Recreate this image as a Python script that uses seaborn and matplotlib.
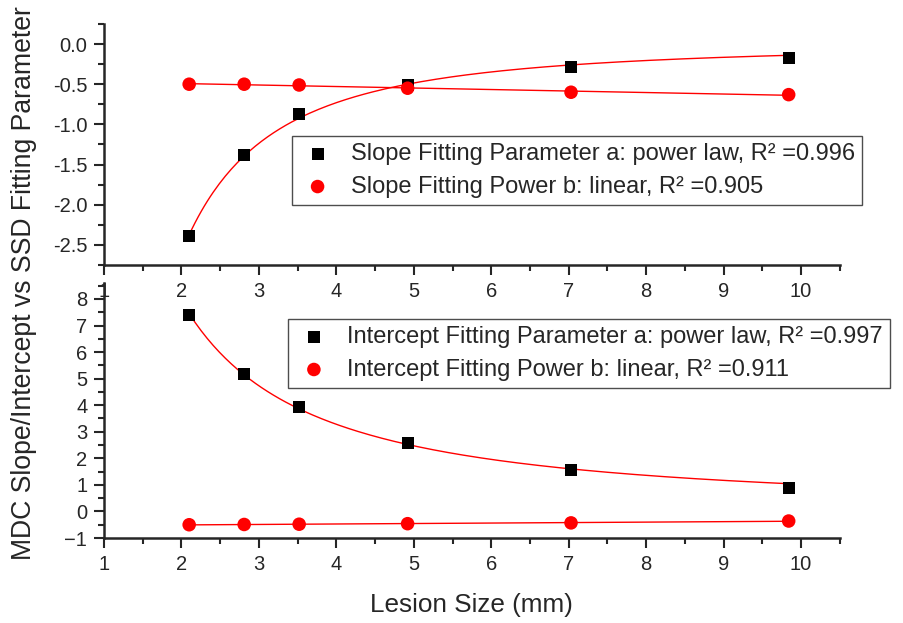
import numpy as np
import pandas as pd
from matplotlib import pyplot as plt
from matplotlib.ticker import MultipleLocator
import seaborn as sns

# lesion sizes (mm)
lesion_size = [2.10, 2.81, 3.52, 4.92, 7.03, 9.84]

# slope fitting parameters
slope_a = [-2.39, -1.38, -0.87, -0.51, -0.29, -0.18]
slope_b = [-0.50, -0.50, -0.51, -0.55, -0.60, -0.63]

# intercept fitting parameters
intercept_a = [7.40, 5.18, 3.92, 2.57, 1.55, 0.90]
intercept_b = [-0.50, -0.49, -0.48, -0.46, -0.43, -0.36]

slope_labels = ["Slope Fitting Parameter a: power law, R² =0.996",
                "Slope Fitting Power b: linear, R² =0.905"]
intercept_labels = ["Intercept Fitting Parameter a: power law, R² =0.997",
                    "Intercept Fitting Power b: linear, R² =0.911"]


def PowerFit(x, y):
    # fit y = A*x^B in log-log space, weighted so it behaves like a plain LS fit
    x = np.asarray(x)
    y = np.asarray(y)
    sign = np.sign(y.mean())
    B, logA = np.polyfit(np.log(x), np.log(sign * y), 1, w=np.abs(y))
    xs = np.linspace(x.min(), x.max(), 200)
    return xs, sign * np.exp(logA) * xs ** B


def LinearFit(x, y):
    m, c = np.polyfit(x, y, 1)
    xs = np.linspace(min(x), max(x), 50)
    return xs, m * xs + c


def DrawPanel(ax, ya, yb, labels):
    xs, ys = PowerFit(lesion_size, ya)
    sns.lineplot(x=xs, y=ys, ax=ax, color="red", lw=1, zorder=1)
    xs, ys = LinearFit(lesion_size, yb)
    sns.lineplot(x=xs, y=ys, ax=ax, color="red", lw=1, zorder=1)
    sns.scatterplot(x=lesion_size, y=ya, ax=ax, marker="s", color="black",
                    s=75, edgecolor="none", label=labels[0], zorder=3)
    sns.scatterplot(x=lesion_size, y=yb, ax=ax, marker="o", color="red",
                    s=95, edgecolor="none", label=labels[1], zorder=3)
    ax.set_xlim(1, 10.5)
    ax.xaxis.set_major_locator(MultipleLocator(1))
    ax.xaxis.set_minor_locator(MultipleLocator(0.5))
    for side in ["top", "right"]:
        ax.spines[side].set_visible(False)
    for side in ["left", "bottom"]:
        ax.spines[side].set_linewidth(1.8)
    ax.tick_params(which="major", direction="out", length=7, width=1.5,
                   labelsize=14.5, pad=5)
    ax.tick_params(which="minor", direction="out", length=4, width=1.5)
    ax.set_xlabel("")
    ax.set_ylabel("")
    ax.patch.set_alpha(0)


sns.set_style("ticks")
plt.rcParams['font.family'] = ['Liberation Sans', 'DejaVu Sans']

fig = plt.figure(figsize=(9.04, 6.23), dpi=100)
ax1 = fig.add_axes([0.115, 0.5746, 0.814, 0.387])
ax2 = fig.add_axes([0.115, 0.1364, 0.814, 0.4093])

leg_kw = dict(loc="upper left", borderaxespad=0, fontsize=17, frameon=True,
              fancybox=False, edgecolor="0.3", framealpha=1,
              handletextpad=0.6, labelspacing=0.45, borderpad=0.3,
              handlelength=1.6)

DrawPanel(ax1, slope_a, slope_b, slope_labels)
ax1.set_ylim(-2.75, 0.25)
ax1.yaxis.set_major_locator(MultipleLocator(0.5))
ax1.yaxis.set_minor_locator(MultipleLocator(0.25))
ax1.yaxis.set_major_formatter(lambda v, p: f"{v:.1f}")
ax1.legend(bbox_to_anchor=(0.255, 0.535), **leg_kw)

DrawPanel(ax2, intercept_a, intercept_b, intercept_labels)
ax2.set_ylim(-1, 8.6)
ax2.yaxis.set_major_locator(MultipleLocator(1))
ax2.yaxis.set_minor_locator(MultipleLocator(0.5))
ax2.legend(bbox_to_anchor=(0.25, 0.859), **leg_kw)
ax2.set_xlabel("Lesion Size (mm)", fontsize=18.8, labelpad=14)

fig.text(0.027, 0.545, "MDC Slope/Intercept vs SSD Fitting Parameter",
         rotation=90, ha="center", va="center", fontsize=19.2)

fig.savefig("out.png", dpi=100)
